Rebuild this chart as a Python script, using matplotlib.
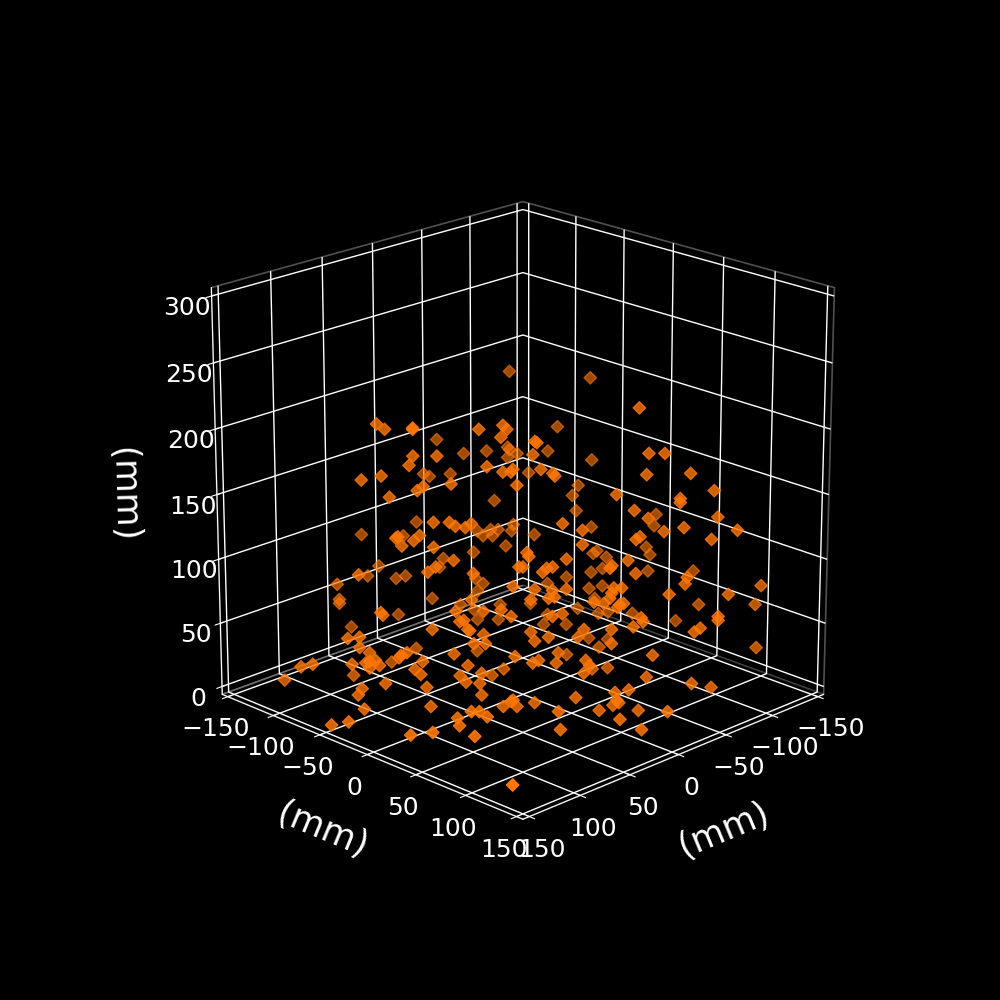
import numpy as np
import matplotlib
matplotlib.use('Agg')
import matplotlib.pyplot as plt

# point positions in mm
x = [-48,-73,-90,-68,-91,-58,-84,-81,-10,-24,-36,-47,-48,-47,-52,-17,-3,-6,-40,1,8,30,-31,-34,-38,-39,-42,-50,-49,-46,-29,-13,-11,21,27,12,7,67,-30,-34,-31,-7,66,-83,-125,-124,-91,-61,-120,-94,-92,-122,-99,-97,-91,-121,-145,-78,-68,-90,-97,-93,66,11,-22,-29,-31,-43,-42,36,-59,-84,-95,-100,-113,-68,-66,-78,-136,-122,-125,-126,-90,-100,-70,-53,-41,-49,26,39,-6,83,5,11,108,104,90,90,57,45,43,46,90,78,92,53,106,116,45,41,40,71,85,88,102,38,-23,29,28,30,-28,-36,26,20,19,-27,-49,-12,-61,-44,80,72,69,64,61,98,99,87,90,96,80,70,79,83,118,60,37,40,61,-21,-44,-28,15,5,-63,-73,-46,-36,-24,-22,-60,5,33,32,13,-18,35,23,20,25,-10,-9,-22,-48,-47,-15,-11,-10,-39,-112,-69,13,29,20,19,22,-9,31,107,106,69,55,65,67,46,41,81,63,62,118,124,118,55,60,54,94,97,98,70,113,113,115,110,108,113,122,86,90,87,63,39,56,67,64,57,105,117,119,84,56,40,-1,-6,-14,-16,-13,-25,-26,20,15,-21,-64,-64,-55,-52,31,29,22,4,7,-10,-10,17,-31,27,30,18,3,1,4,-28,-51,-61,-12,-19,8,-13,148,142,133,116,151,148,82,45,41,38,86,82,78,93,92,109,141,130,140,29,42,41,-4,-11,-14,-24,11,0,-13]
y = [-62,-37,-20,-42,-19,-52,-26,-29,-100,-86,-74,-63,-62,-63,-58,-93,-107,-104,-70,-111,-118,-140,-79,-76,-72,-71,-68,-60,-61,-64,-81,-97,-99,-131,-137,-122,-117,-127,-80,-76,-79,-103,-126,-27,15,14,-19,-49,10,-16,-18,12,-11,-13,-19,11,35,-32,-42,-20,-13,-17,-126,-121,-88,-81,-79,-67,-68,-146,-51,-26,-15,-10,3,-42,-44,-32,26,62,115,116,-20,-10,10,-7,31,39,-86,-99,-54,-93,-15,-21,-38,-34,-20,-20,13,25,27,24,-20,-8,-22,17,-36,-46,25,29,30,-1,-15,-18,-32,32,93,41,42,40,98,106,44,50,51,97,119,82,131,114,-10,-2,1,6,9,-28,-29,-17,-20,-26,-10,0,-9,-13,-48,10,33,30,9,91,114,98,55,65,133,143,116,106,94,92,130,65,37,38,57,88,35,47,50,45,80,79,92,118,117,85,81,80,109,132,139,57,41,50,51,48,79,39,-37,-36,1,15,5,3,24,29,-11,7,8,-48,-54,-48,15,10,16,-24,-27,-28,0,-43,-43,-45,-40,-38,-43,-52,-16,-20,-17,7,31,14,3,6,13,-35,-47,-49,-14,14,30,71,76,84,86,83,95,96,50,55,91,134,134,125,122,39,41,48,66,63,80,80,53,101,43,40,52,67,69,66,98,121,131,82,89,62,83,-78,-72,-113,-46,-43,-28,-12,25,29,32,34,38,42,27,28,61,29,40,130,41,78,79,74,81,84,94,109,120,133]
z = [218,175,213,156,149,139,129,121,165,154,156,159,157,151,154,138,138,136,117,100,89,90,93,89,94,89,94,98,93,81,76,71,64,65,57,55,57,64,55,51,45,39,52,109,106,97,96,90,80,77,75,74,72,63,60,61,61,56,51,47,49,39,49,26,34,30,22,34,22,16,35,31,27,28,27,26,18,18,21,48,62,28,7,6,14,8,11,12,13,2,11,6,11,6,221,217,218,217,217,220,217,211,197,197,190,189,182,179,185,185,187,176,174,171,166,175,233,208,207,198,199,199,187,184,182,183,184,168,171,165,147,147,144,143,146,136,135,137,133,129,128,118,113,109,107,108,113,98,88,156,162,150,146,141,151,141,143,140,136,134,134,130,124,121,119,118,113,112,113,109,114,112,108,105,100,97,97,93,92,85,92,96,96,95,90,89,89,88,78,76,79,79,72,71,80,75,65,65,64,59,58,51,61,54,54,47,45,43,46,47,40,39,41,37,35,38,40,34,30,37,44,31,29,24,23,23,19,14,20,14,10,86,85,84,85,82,74,71,75,77,67,75,72,66,63,63,56,59,65,59,65,54,47,45,41,39,39,41,37,31,28,23,20,16,18,12,10,36,38,11,3,2,8,5,5,9,5,16,16,12,11,5,12,13,15,6,8,16,2,2,6,8,2,10,2,16]

ticks_xy = [-150, -100, -50, 0, 50, 100, 150]
ticks_z = [0, 50, 100, 150, 200, 250, 300]

plt.style.use('dark_background')
plt.rcParams['axes3d.automargin'] = True
plt.rcParams['grid.linewidth'] = 1.0

fig = plt.figure(figsize=(10, 10), dpi=100)
ax = fig.add_subplot(projection='3d')
ax.view_init(elev=20, azim=45)
ax.set_xlim(-150, 150)
ax.set_ylim(-150, 150)
ax.set_zlim(0, 300)
ax.set_box_aspect((1, 1, 1), zoom=0.945)
ax.set_xticks(ticks_xy)
ax.set_yticks(ticks_xy)
ax.set_zticks(ticks_z)

for a in (ax.xaxis, ax.yaxis, ax.zaxis):
    a.pane.set_facecolor((0, 0, 0, 1))
    a.pane.set_edgecolor('#a0a0a0')
    a.pane.set_linewidth(1.2)
    a.set_rotate_label(True)

ax.tick_params(labelsize=18)
ax.set_xlabel('(mm)', fontsize=25, labelpad=20, color='white')
ax.set_ylabel('(mm)', fontsize=25, labelpad=20, color='white')
ax.set_zlabel('(mm)', fontsize=25, labelpad=23, color='white')

# fade with distance from the viewer, milder than the default depth shading
xa, ya, za = np.array(x), np.array(y), np.array(z)
fade = np.interp(xa + ya, [-230, 260], [0.5, 1.0])
colors = np.tile(matplotlib.colors.to_rgba('#ff7700'), (len(xa), 1))
colors[:, 3] = fade
ax.scatter(xa, ya, za, c=colors, marker='D', s=40, depthshade=False)

fig.savefig('out.png', dpi=100)
